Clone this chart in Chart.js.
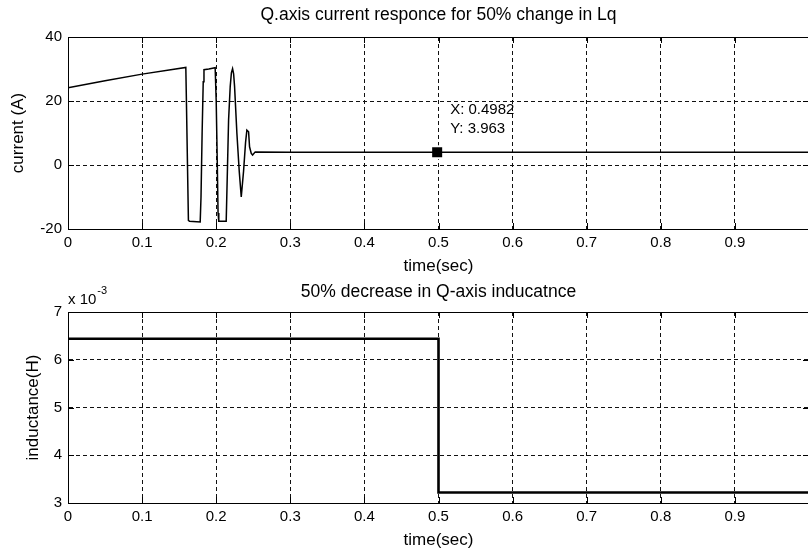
<!DOCTYPE html>
<html>
<head>
<meta charset="utf-8">
<script src="https://cdn.jsdelivr.net/npm/chart.js@4.4.0/dist/chart.umd.min.js"></script>
<style>
  html, body { margin: 0; padding: 0; background: #fff; width: 808px; height: 554px; overflow: hidden; }
  .panel { position: absolute; left: 0; width: 840px; height: 277px; }
  #topPanel { top: 0; }
  #botPanel { top: 277px; }
</style>
</head>
<body>
<div class="panel" id="topPanel"><canvas id="currentChart" width="840" height="277"></canvas></div>
<div class="panel" id="botPanel"><canvas id="inductChart" width="840" height="277"></canvas></div>

<script>
/* ---------------------------------------------------------------
   DATA
   --------------------------------------------------------------- */
// q-axis current, time in seconds
const timeQ = [0, 0.05, 0.1, 0.159, 0.1598, 0.1625, 0.164, 0.1784, 0.1795, 0.181, 0.1825, 0.1835,
  0.19, 0.1986, 0.2, 0.2015, 0.2025, 0.2035, 0.2135, 0.2153, 0.2167, 0.2189, 0.2205, 0.2221, 0.2235, 0.2248, 0.2279,
  0.2311, 0.2338, 0.2369, 0.2396, 0.2414, 0.2437, 0.245, 0.2473, 0.2491, 0.2527, 0.3, 0.4982, 1.0];
const currentQ = [24.1, 26.3, 28.4, 30.5, 20, -17.3, -17.6, -17.8, -10, 10, 26, 29.8,
  30.0, 30.4, 20, 0, -15, -17.6, -17.6, 0, 14, 24.5, 28.8, 30.1, 28.5, 24.5, 10,
  -2, -10, -2, 7, 10.9, 10.4, 5.7, 3.6, 3.1, 4.1, 4.0, 3.963, 4.0];

// data tip
const tipX = [0.4982];
const tipY = [3.963];

// q-axis inductance (H)
const timeL = [0, 0.5, 0.5, 1.0];
const inductL = [6.44e-3, 6.44e-3, 3.22e-3, 3.22e-3];

// ticks
const xTickVals = [0, 0.1, 0.2, 0.3, 0.4, 0.5, 0.6, 0.7, 0.8, 0.9, 1.0];
const xTickLabels = ["0", "0.1", "0.2", "0.3", "0.4", "0.5", "0.6", "0.7", "0.8", "0.9", ""];
const currentTicks = [-20, 0, 20, 40];
const inductTicks = [3e-3, 4e-3, 5e-3, 6e-3, 7e-3];
const inductTickLabels = ["3", "4", "5", "6", "7"];

/* ---------------------------------------------------------------
   COMMON STYLE
   --------------------------------------------------------------- */
const FONT = "'Liberation Sans', Arial, sans-serif";
Chart.defaults.font.family = FONT;
Chart.defaults.font.size = 15;
Chart.defaults.color = "#000";

// Helper: frame + inward tick marks, like a matlab axes box
const matlabBox = {
  id: "matlabBox",
  afterDraw(chart) {
    const { ctx, chartArea: a, scales } = chart;
    ctx.save();
    ctx.strokeStyle = "#000";
    ctx.lineWidth = 1;
    ctx.setLineDash([]);
    ctx.strokeRect(a.left + 0.5, a.top + 0.5, a.right - a.left, a.bottom - a.top);
    ctx.beginPath();
    scales.x.ticks.forEach(t => {
      const px = Math.round(scales.x.getPixelForValue(t.value)) + 0.5;
      ctx.moveTo(px, a.bottom); ctx.lineTo(px, a.bottom - 6);
      ctx.moveTo(px, a.top); ctx.lineTo(px, a.top + 6);
    });
    scales.y.ticks.forEach(t => {
      const py = Math.round(scales.y.getPixelForValue(t.value)) + 0.5;
      ctx.moveTo(a.left, py); ctx.lineTo(a.left + 6, py);
      ctx.moveTo(a.right, py); ctx.lineTo(a.right - 6, py);
    });
    ctx.stroke();

    // extra texts (data tip, exponent)
    const extra = chart.options.plugins.matlabBox || {};
    if (extra.tip) {
      const px = scales.x.getPixelForValue(tipX[0]);
      const py = scales.y.getPixelForValue(tipY[0]);
      ctx.fillStyle = "#000";
      ctx.font = "15px " + FONT;
      ctx.textAlign = "left";
      ctx.textBaseline = "middle";
      ctx.fillText("X: " + tipX[0], px + 13, py - 42);
      ctx.fillText("Y: " + tipY[0], px + 13, py - 23);
    }
    if (extra.exponent) {
      ctx.fillStyle = "#000";
      ctx.textAlign = "left";
      ctx.textBaseline = "alphabetic";
      ctx.font = "15px " + FONT;
      ctx.fillText("x 10", a.left, a.top - 8);
      const w = ctx.measureText("x 10").width;
      ctx.font = "11px " + FONT;
      ctx.fillText("-3", w + a.left + 1, a.top - 18);
    }
    ctx.restore();
  }
};

function xScale(titlePadBottom, axisHeight) {
  return {
    type: "linear",
    min: 0,
    max: 1,
    afterBuildTicks: s => { s.ticks = xTickVals.map(v => ({ value: v })); },
    afterFit: s => { s.height = axisHeight; },
    ticks: {
      autoSkip: false,
      maxRotation: 0,
      padding: 5,
      callback: (v, i) => xTickLabels[i]
    },
    grid: { color: "#111", lineWidth: 1, drawTicks: false },
    border: { display: true, color: "#000", width: 1, dash: [4, 3] },
    title: { display: true, text: "time(sec)", font: { size: 17 }, padding: { top: 0, bottom: titlePadBottom } }
  };
}

/* ---------------------------------------------------------------
   1) Q-AXIS CURRENT
   --------------------------------------------------------------- */
new Chart(document.getElementById("currentChart").getContext("2d"), {
  type: "line",
  data: {
    datasets: [
      {
        label: "iq",
        data: timeQ.map((t, i) => ({ x: t, y: currentQ[i] })),
        borderColor: "#000",
        borderWidth: 1.5,
        pointRadius: 0,
        tension: 0
      },
      {
        label: "tip",
        data: tipX.map((t, i) => ({ x: t, y: tipY[i] })),
        showLine: false,
        pointStyle: "rect",
        pointRadius: 8.5,
        backgroundColor: "#000",
        borderColor: "#fff",
        borderWidth: 2
      }
    ]
  },
  options: {
    responsive: false,
    animation: false,
    events: [],
    layout: { padding: { left: 0, right: 31, top: 0, bottom: 0 } },
    plugins: {
      legend: { display: false },
      tooltip: { enabled: false },
      title: {
        display: true,
        fullSize: false,
        text: "Q.axis current responce for 50% change in Lq",
        font: { size: 17.5, weight: "normal" },
        padding: { top: 5, bottom: 11 }
      },
      matlabBox: { tip: true }
    },
    scales: {
      x: xScale(0, 48),
      y: {
        type: "linear",
        min: -20,
        max: 40,
        afterBuildTicks: s => { s.ticks = currentTicks.map(v => ({ value: v })); },
        afterFit: s => { s.width = 68; },
        ticks: { padding: 6 },
        grid: { color: "#111", lineWidth: 1, drawTicks: false },
        border: { display: true, color: "#000", width: 1, dash: [4, 3] },
        title: { display: true, text: "current (A)", font: { size: 17 }, padding: { top: 8, bottom: 0 } }
      }
    }
  },
  plugins: [matlabBox]
});

/* ---------------------------------------------------------------
   2) Q-AXIS INDUCTANCE
   --------------------------------------------------------------- */
new Chart(document.getElementById("inductChart").getContext("2d"), {
  type: "line",
  data: {
    datasets: [
      {
        label: "Lq",
        data: timeL.map((t, i) => ({ x: t, y: inductL[i] })),
        borderColor: "#000",
        borderWidth: 2.6,
        pointRadius: 0,
        tension: 0
      }
    ]
  },
  options: {
    responsive: false,
    animation: false,
    events: [],
    layout: { padding: { left: 0, right: 31, top: 0, bottom: 0 } },
    plugins: {
      legend: { display: false },
      tooltip: { enabled: false },
      title: {
        display: true,
        fullSize: false,
        text: "50% decrease in Q-axis inducatnce",
        font: { size: 17.5, weight: "normal" },
        padding: { top: 4.5, bottom: 9.5 }
      },
      matlabBox: { exponent: true }
    },
    scales: {
      x: xScale(3.8, 51),
      y: {
        type: "linear",
        min: 3e-3,
        max: 7e-3,
        afterBuildTicks: s => { s.ticks = inductTicks.map(v => ({ value: v })); },
        afterFit: s => { s.width = 68; },
        ticks: { padding: 6, callback: (v, i) => inductTickLabels[i] },
        grid: { color: "#111", lineWidth: 1, drawTicks: false },
        border: { display: true, color: "#000", width: 1, dash: [4, 3] },
        title: { display: true, text: "inductance(H)", font: { size: 17 }, padding: { top: 23, bottom: 0 } }
      }
    }
  },
  plugins: [matlabBox]
});
</script>
</body>
</html>
